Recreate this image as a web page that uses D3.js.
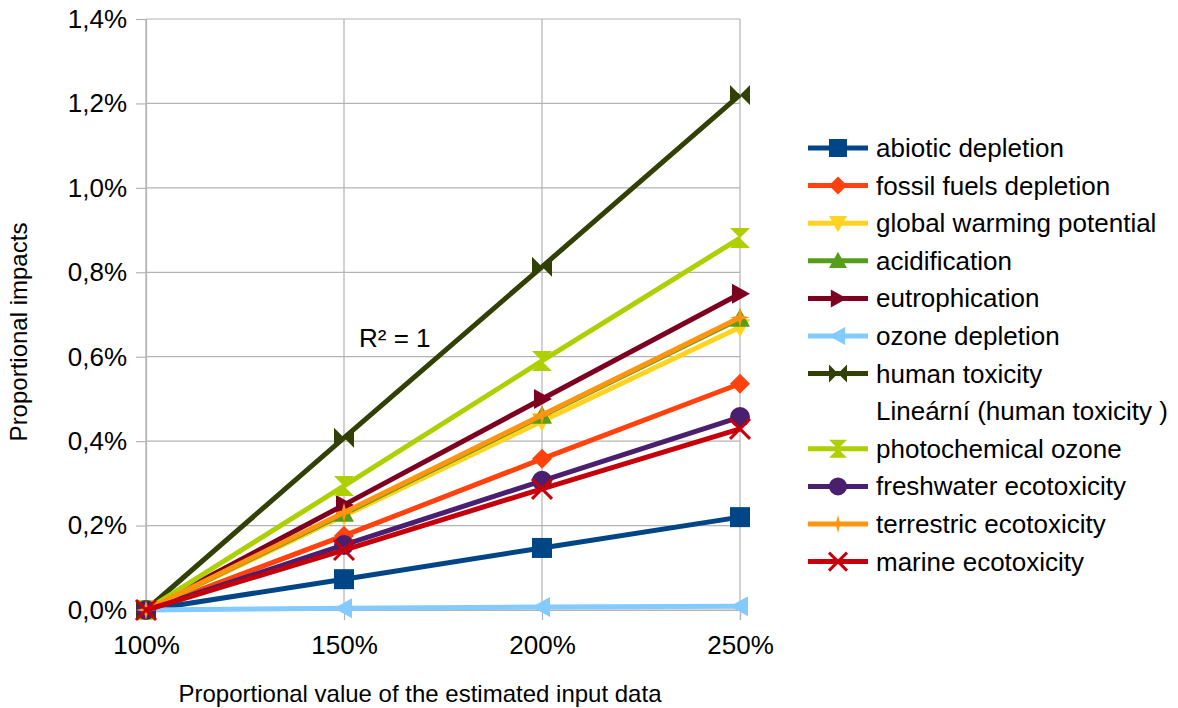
<!DOCTYPE html>
<html><head><meta charset="utf-8">
<script src="https://cdn.jsdelivr.net/npm/d3@7"></script>
<style>body{margin:0;background:#fff}svg{display:block}text{font-family:"Liberation Sans",Arial,sans-serif;fill:#000}</style>
</head><body><svg id="c" width="1178" height="708"></svg>
<script>
const categories = ["100%","150%","200%","250%"];
const yTicks = [0,0.002,0.004,0.006,0.008,0.010,0.012,0.014];
const abiotic = [0,0.00073,0.00147,0.00220];
const fossil = [0,0.00176,0.00358,0.00536];
const gwp = [0,0.00223,0.00447,0.00670];
const acid = [0,0.00228,0.00460,0.00690];
const eutro = [0,0.00249,0.00500,0.00749];
const ozone = [0,0.00004,0.00007,0.00009];
const humanTox = [0,0.00408,0.00813,0.01220];
const photo = [0,0.00294,0.00590,0.00881];
const fresh = [0,0.00154,0.00306,0.00457];
const terr = [0,0.00231,0.00462,0.00693];
const marine = [0,0.00142,0.00287,0.00429];
const colors = ["#004586","#ff420e","#ffd320","#579d1c","#7e0021","#83caff","#314004","#aecf00","#4b1f6f","#ff950e","#c5000b"];
const markers = ["square","diamond","down","up","right","left","bowtieH","bowtieV","circle","star","x"];
const values = [abiotic,fossil,gwp,acid,eutro,ozone,humanTox,photo,fresh,terr,marine];
const legendLabels = ["abiotic depletion","fossil fuels depletion","global warming potential","acidification","eutrophication","ozone depletion","human toxicity","Lineární (human toxicity )","photochemical ozone","freshwater ecotoxicity","terrestric ecotoxicity","marine ecotoxicity"];

const svg = d3.select("#c");
const L=146,R=740,T=19,B=610;
const x = d3.scalePoint().domain(categories).range([L,R]);
const y = d3.scaleLinear().domain([0,0.014]).range([B,T]);
const fmt = d => d3.format(".1%")(d).replace(".",",");

svg.append("g").selectAll("line").data(yTicks).join("line")
  .attr("x1",L).attr("x2",R).attr("y1",d=>y(d)).attr("y2",d=>y(d))
  .attr("stroke","#b3b3b3").attr("stroke-width",1.2);
svg.append("g").selectAll("line").data(categories).join("line")
  .attr("x1",d=>x(d)).attr("x2",d=>x(d)).attr("y1",T).attr("y2",B)
  .attr("stroke","#b3b3b3").attr("stroke-width",1.2);

const yAxis = d3.axisLeft(y).tickValues(yTicks).tickFormat(fmt).tickSize(10).tickPadding(9);
const gy = svg.append("g").attr("transform",`translate(${L},0)`).call(yAxis);
const xAxis = d3.axisBottom(x).tickSize(10).tickPadding(14);
const gx = svg.append("g").attr("transform",`translate(0,${B})`).call(xAxis);
[gy,gx].forEach(g=>{
  g.attr("font-size",null).attr("font-family",null);
  g.selectAll(".domain").attr("stroke","#b3b3b3").attr("stroke-width",1.2);
  g.selectAll(".tick line").attr("stroke","#b3b3b3").attr("stroke-width",1.2);
  g.selectAll("text").attr("font-size",26).attr("fill","#000");
});
gx.selectAll("text").attr("dy",null).attr("y",44);

function markerPath(type, s){
  const h=s/2;
  switch(type){
    case "square": return `M${-h},${-h}H${h}V${h}H${-h}Z`;
    case "diamond": return `M0,${-h}L${h},0L0,${h}L${-h},0Z`;
    case "down": return `M${-h},${-h*0.8}H${h}L0,${h}Z`;
    case "up": return `M${-h},${h*0.8}H${h}L0,${-h}Z`;
    case "right": return `M${-h*0.8},${-h}V${h}L${h},0Z`;
    case "left": return `M${h*0.8},${-h}V${h}L${-h},0Z`;
    case "bowtieH": return `M${-h},${-h}L0,0L${-h},${h}ZM${h},${-h}L0,0L${h},${h}Z`;
    case "bowtieV": return `M${-h},${-h}H${h}L0,0ZM${-h},${h}H${h}L0,0Z`;
    case "star": return `M0,${-h}L${h*0.2},${-h*0.2}L${h},0L${h*0.2},${h*0.2}L0,${h}L${-h*0.2},${h*0.2}L${-h},0L${-h*0.2},${-h*0.2}Z`;
    default: return "";
  }
}
function drawMarker(g, type, color, cx, cy, s){
  if(type==="circle"){
    g.append("circle").attr("cx",cx).attr("cy",cy).attr("r",s/2).attr("fill",color);
  } else if(type==="x"){
    const h=s/2;
    g.append("path").attr("d",`M${cx-h},${cy-h}L${cx+h},${cy+h}M${cx+h},${cy-h}L${cx-h},${cy+h}`)
      .attr("stroke",color).attr("stroke-width",3).attr("fill","none");
  } else {
    g.append("path").attr("d",markerPath(type,s)).attr("transform",`translate(${cx},${cy})`).attr("fill",color);
  }
}

const line = d3.line().x((d,i)=>x(categories[i])).y(d=>y(d));
const plot = svg.append("g");
values.forEach((vals,k)=>{
  const g = plot.append("g");
  g.append("path").datum(vals).attr("d",line).attr("fill","none")
    .attr("stroke",colors[k]).attr("stroke-width",5).attr("stroke-linejoin","round");
  vals.forEach((v,i)=>drawMarker(g,markers[k],colors[k],x(categories[i]),y(v),20));
});

svg.append("text").attr("x",359).attr("y",347).attr("font-size",26).text("R² = 1");

const lg = svg.append("g");
legendLabels.forEach((lab,j)=>{
  const yy = 148 + j*37.6;
  if(j!==7){
    const k = j<7 ? j : j-1;
    lg.append("line").attr("x1",808).attr("x2",868).attr("y1",yy).attr("y2",yy)
      .attr("stroke",colors[k]).attr("stroke-width",5);
    drawMarker(lg,markers[k],colors[k],838,yy,18);
  }
  lg.append("text").attr("x",876).attr("y",yy+9).attr("font-size",26).text(lab);
});

svg.append("text").attr("transform","translate(27,332) rotate(-90)").attr("text-anchor","middle").attr("font-size",24).text("Proportional impacts");
svg.append("text").attr("x",420).attr("y",702).attr("text-anchor","middle").attr("font-size",24).text("Proportional value of the estimated input data");
</script></body></html>
